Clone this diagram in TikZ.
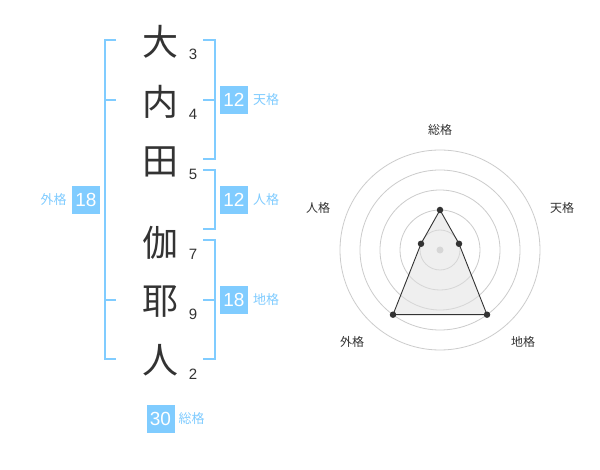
\documentclass[tikz,border=0pt]{standalone}
\usepackage{fontspec}
\setmainfont{Liberation Sans}
\newfontfamily\cjk{Noto Sans CJK JP}
\definecolor{kblue}{RGB}{128,204,255}
\definecolor{ktext}{RGB}{51,51,51}
\definecolor{kgrid}{RGB}{204,204,204}
\begin{document}
\begin{tikzpicture}[x=1pt,y=-1pt,
  kanji/.style={font=\cjk\fontsize{36}{36}\selectfont, text=ktext, inner sep=0pt},
  strokes/.style={font=\fontsize{15}{15}\selectfont, text=ktext, inner sep=0pt},
  valbox/.style={fill=kblue, text=white, minimum width=28pt, minimum height=28pt, inner sep=0pt, font=\fontsize{19}{19}\selectfont},
  kaku/.style={font=\cjk\fontsize{13}{13}\selectfont, text=kblue, inner sep=0pt},
  bracket/.style={draw=kblue, line width=2pt},
  grid/.style={draw=kgrid, line width=0.8pt},
  radarlabel/.style={font=\cjk\fontsize{12}{12}\selectfont, text=ktext, inner sep=0pt},
  dot/.style={circle, fill=ktext, inner sep=0pt, minimum size=6.5pt}]
\useasboundingbox (0,0) rectangle (600,470);
\fill[white] (0,0) rectangle (600,470);
% kanji
\node[kanji] (k1) at (160,42) {大};
\node[kanji] (k2) at (160,102) {内};
\node[kanji] (k3) at (160,162) {田};
\node[kanji] (k4) at (160,243) {伽};
\node[kanji] (k5) at (160,302) {耶};
\node[kanji] (k6) at (160,360) {人};
% stroke counts
\node[strokes] (s1) at (193,54) {3};
\node[strokes] (s2) at (193,114) {4};
\node[strokes] (s3) at (193,174) {5};
\node[strokes] (s4) at (193,254) {7};
\node[strokes] (s5) at (193,314) {9};
\node[strokes] (s6) at (193,374) {2};
% brackets
\draw[bracket] (116,40) -- (104.5,40) -- (104.5,359) -- (116,359);
\draw[bracket] (104.5,100) -- (116,100);
\draw[bracket] (104.5,300) -- (116,300);
\draw[bracket] (203,40) -- (214.5,40) -- (214.5,159) -- (203,159);
\draw[bracket] (203,100) -- (214.5,100);
\draw[bracket] (203,170) -- (214.5,170) -- (214.5,229) -- (203,229);
\draw[bracket] (203,240) -- (214.5,240) -- (214.5,359) -- (203,359);
\draw[bracket] (203,300) -- (214.5,300);
% value boxes
\node[valbox] (bt) at (234,100) {12};
\node[kaku] (lt) at (266,100) {天格};
\node[valbox] (bj) at (234,200) {12};
\node[kaku] (lj) at (266,200) {人格};
\node[valbox] (bg) at (86,200) {18};
\node[kaku] (lg) at (53.5,200) {外格};
\node[valbox] (bc) at (234,300) {18};
\node[kaku] (lc) at (266,300) {地格};
\node[valbox] (bs) at (160.5,419) {30};
\node[kaku] (ls) at (191.5,419) {総格};
% radar
\coordinate (rc) at (440,250);
\foreach \r in {20,40,60,80,100} \draw[grid] (rc) circle (\r pt);
\fill[kgrid] (rc) circle (3.5pt);
\coordinate (p1) at (440,210);
\coordinate (p2) at (459,243.8);
\coordinate (p3) at (487,314.7);
\coordinate (p4) at (393,314.7);
\coordinate (p5) at (421,243.8);
\filldraw[fill=black!12, fill opacity=0.5, draw=ktext, line width=0.9pt] (p1) -- (p2) -- (p3) -- (p4) -- (p5) -- cycle;
\foreach \p in {p1,p2,p3,p4,p5} \node[dot] at (\p) {};
\node[radarlabel] (r1) at (440,130) {総格};
\node[radarlabel] (r2) at (562,208) {天格};
\node[radarlabel] (r3) at (523,342) {地格};
\node[radarlabel] (r4) at (352,342) {外格};
\node[radarlabel] (r5) at (318,208) {人格};
\end{tikzpicture}
\end{document}
